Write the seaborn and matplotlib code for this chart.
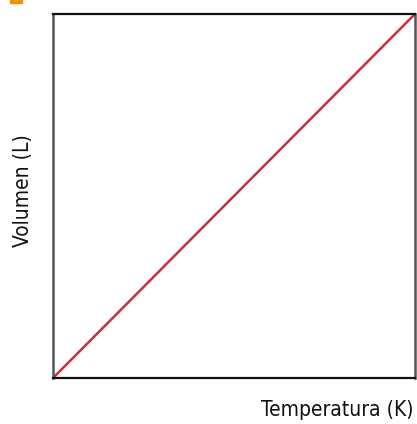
import matplotlib
matplotlib.use("Agg")
import matplotlib.pyplot as plt
from matplotlib.patches import Rectangle
import seaborn as sns
import pandas as pd

# Charles' law: volume grows linearly with absolute temperature
temperatura = [0.0, 1.0]
volumen = [0.0, 1.0]

sns.set_theme(style="white")
plt.rcParams["font.family"] = ["DejaVu Sans"]
plt.rcParams["font.stretch"] = "condensed"

df = pd.DataFrame({"Temperatura (K)": temperatura, "Volumen (L)": volumen})

fig = plt.figure(figsize=(4.17, 4.24), dpi=100)
ax = fig.add_axes([53 / 417, 46 / 424, 362 / 417, 364 / 424])

sns.lineplot(data=df, x="Temperatura (K)", y="Volumen (L)", ax=ax,
             color="#c9303a", linewidth=1.8)

ax.set_xlim(0, 1)
ax.set_ylim(0, 1)
ax.set_xticks([])
ax.set_yticks([])
for side in ["top", "bottom"]:
    ax.spines[side].set_color("#111111")
    ax.spines[side].set_linewidth(1.6)
for side in ["left", "right"]:
    ax.spines[side].set_color("#555555")
    ax.spines[side].set_linewidth(1.8)

ax.set_xlabel("Temperatura (K)", fontsize=15, color="#111111",
              fontstretch="condensed")
ax.xaxis.set_label_coords(0.995, -0.06)
ax.xaxis.label.set_horizontalalignment("right")
ax.xaxis.label.set_verticalalignment("top")
ax.set_ylabel("Volumen (L)", fontsize=15, color="#111111",
              fontstretch="condensed")
ax.yaxis.set_label_coords(-0.055, 0.515)

# orange tab in the corner
fig.patches.append(Rectangle((10 / 417, 1 - 3 / 424), 12 / 417, 3 / 424,
                             transform=fig.transFigure, color="#f39200",
                             zorder=5))

fig.savefig("out.png", dpi=100)
